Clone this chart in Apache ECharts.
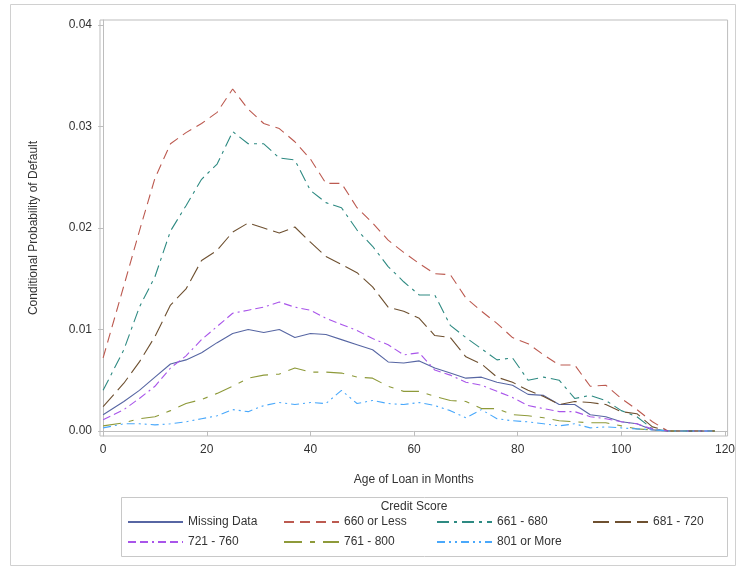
<!DOCTYPE html>
<html><head><meta charset="utf-8">
<script src="https://cdn.jsdelivr.net/npm/echarts@6/dist/echarts.min.js"></script>
<style>html,body{margin:0;padding:0;background:#fff}#c{width:738px;height:568px}</style>
</head><body><div id="c"></div>
<script>
const months = [0,4,7,10,13,16,19,22,25,28,31,34,37,40,43,46,49,52,55,58,61,64,67,70,73,76,79,82,85,88,91,94,97,100,103,106,109,112,115,118];
const seriesNames = ['Missing Data','660 or Less','661 - 680','681 - 720','721 - 760','761 - 800','801 or More'];
const missingData = [0.0016,0.0029,0.0040,0.0053,0.0066,0.0070,0.0077,0.0087,0.0096,0.0100,0.0097,0.0100,0.0092,0.0096,0.0095,0.0090,0.0085,0.0080,0.0068,0.0067,0.0069,0.0062,0.0057,0.0052,0.0053,0.0048,0.0045,0.0036,0.0035,0.0026,0.0026,0.0016,0.0014,0.0009,0.0007,0.0001,0,0,0,0];
const le660 = [0.0072,0.0143,0.0197,0.0249,0.0283,0.0294,0.0303,0.0314,0.0337,0.0317,0.0303,0.0298,0.0285,0.0268,0.0244,0.0244,0.0220,0.0205,0.0188,0.0176,0.0165,0.0155,0.0154,0.0131,0.0118,0.0106,0.0092,0.0086,0.0075,0.0065,0.0065,0.0044,0.0045,0.0032,0.0021,0.0009,0,0,0,0];
const s661 = [0.0040,0.0080,0.0122,0.0152,0.0197,0.0222,0.0248,0.0263,0.0295,0.0283,0.0283,0.0269,0.0267,0.0237,0.0225,0.0220,0.0198,0.0182,0.0162,0.0147,0.0134,0.0134,0.0104,0.0092,0.0081,0.0070,0.0072,0.0050,0.0053,0.0050,0.0032,0.0035,0.0030,0.0020,0.0014,0.0002,0,0,0,0];
const s681 = [0.0024,0.0047,0.0068,0.0093,0.0124,0.0140,0.0168,0.0178,0.0196,0.0205,0.0200,0.0195,0.0201,0.0186,0.0172,0.0164,0.0156,0.0142,0.0122,0.0118,0.0111,0.0094,0.0092,0.0073,0.0066,0.0053,0.0048,0.0040,0.0034,0.0026,0.0029,0.0028,0.0026,0.0019,0.0017,0.0004,0,0,0,0];
const s721 = [0.0011,0.0021,0.0032,0.0044,0.0062,0.0074,0.0090,0.0103,0.0116,0.0119,0.0122,0.0127,0.0122,0.0119,0.0111,0.0105,0.0099,0.0091,0.0085,0.0075,0.0077,0.0060,0.0055,0.0048,0.0045,0.0039,0.0033,0.0025,0.0022,0.0019,0.0019,0.0014,0.0012,0.0009,0.0007,0.0002,0,0,0,0];
const s761 = [0.0005,0.0008,0.0012,0.0014,0.0020,0.0027,0.0031,0.0037,0.0044,0.0052,0.0055,0.0056,0.0062,0.0058,0.0058,0.0057,0.0053,0.0052,0.0044,0.0039,0.0039,0.0034,0.0030,0.0029,0.0022,0.0022,0.0016,0.0015,0.0013,0.0010,0.0009,0.0008,0.0008,0.0005,0.0002,0.0001,0,0,0,0];
const s801 = [0.0003,0.0007,0.0007,0.0006,0.0007,0.0009,0.0012,0.0015,0.0021,0.0019,0.0025,0.0028,0.0026,0.0028,0.0027,0.0040,0.0027,0.0030,0.0027,0.0026,0.0028,0.0025,0.0020,0.0013,0.0021,0.0012,0.0010,0.0009,0.0007,0.0005,0.0007,0.0003,0.0004,0.0003,0.0002,0.0001,0,0,0,0];
const xTicks = [0,20,40,60,80,100,120];
const yTicks = [0,0.01,0.02,0.03,0.04];

const values = [missingData, le660, s661, s681, s721, s761, s801];
const colors = ['#5766a3','#bc5a50','#2e8a82','#6e5030','#a955ea','#8e9a3a','#49a8fb'];
const dashes = ['solid',[10,6],[12,5,3,5],[16,6],[8,4,8,4,2,4],[18,8,5,8],[8,4,2,4,2,4]];
const legendPos = [[127,516],[283,516],[436,516],[592,516],[127,536],[283,536],[436,536]];

const FONT = '"Liberation Sans", Arial, sans-serif';
const chart = echarts.init(document.getElementById('c'));
chart.setOption({
  animation: false,
  backgroundColor: '#fff',
  grid: {left: 100, top: 20, width: 628, height: 416, show: true, borderColor: '#bdbdbd', borderWidth: 1, containLabel: false},
  xAxis: {
    type: 'value', min: -0.6, max: 120.5,
    name: 'Age of Loan in Months', nameLocation: 'middle', nameGap: 38,
    nameTextStyle: {fontFamily: FONT, fontSize: 12, color: '#333'},
    axisLine: {show: true, lineStyle: {color: '#bdbdbd'}},
    axisTick: {show: true, length: 5, customValues: xTicks, lineStyle: {color: '#bdbdbd'}},
    axisLabel: {customValues: xTicks, fontFamily: FONT, fontSize: 12, color: '#333', margin: 8},
    splitLine: {show: false}
  },
  yAxis: {
    type: 'value', min: -0.0005, max: 0.0405,
    name: 'Conditional Probability of Default', nameLocation: 'middle', nameGap: 60,
    nameTextStyle: {fontFamily: FONT, fontSize: 12, color: '#333'},
    axisLine: {show: true, lineStyle: {color: '#bdbdbd'}},
    axisTick: {show: true, length: 5, customValues: yTicks, lineStyle: {color: '#bdbdbd'}},
    axisLabel: {customValues: yTicks, fontFamily: FONT, fontSize: 12, color: '#333', margin: 8,
      formatter: v => v.toFixed(2)},
    splitLine: {show: false}
  },
  legend: seriesNames.map((n, i) => ({
    data: [n], left: legendPos[i][0], top: legendPos[i][1], padding: 0,
    itemWidth: 55, itemHeight: 14, itemGap: 8,
    itemStyle: {opacity: 0},
    textStyle: {fontFamily: FONT, fontSize: 12, color: '#333'}
  })),
  graphic: [
    {type: 'rect', shape: {x: 10.5, y: 4.5, width: 725, height: 561}, style: {fill: 'none', stroke: '#d0d0d0', lineWidth: 1}, silent: true},
    {type: 'rect', shape: {x: 121.5, y: 497.5, width: 606, height: 59}, style: {fill: 'none', stroke: '#c8c8c8', lineWidth: 1}, silent: true},
    {type: 'text', x: 414, y: 507, style: {text: 'Credit Score', font: '12px ' + FONT, fill: '#333', textAlign: 'center', textVerticalAlign: 'middle'}}
  ],
  series: seriesNames.map((n, i) => ({
    name: n, type: 'line', symbol: 'none', z: 2 + i,
    data: months.map((m, j) => [m, values[i][j]]),
    lineStyle: {color: colors[i], width: 1.1, type: dashes[i]},
    itemStyle: {color: colors[i]}
  }))
});
</script></body></html>
